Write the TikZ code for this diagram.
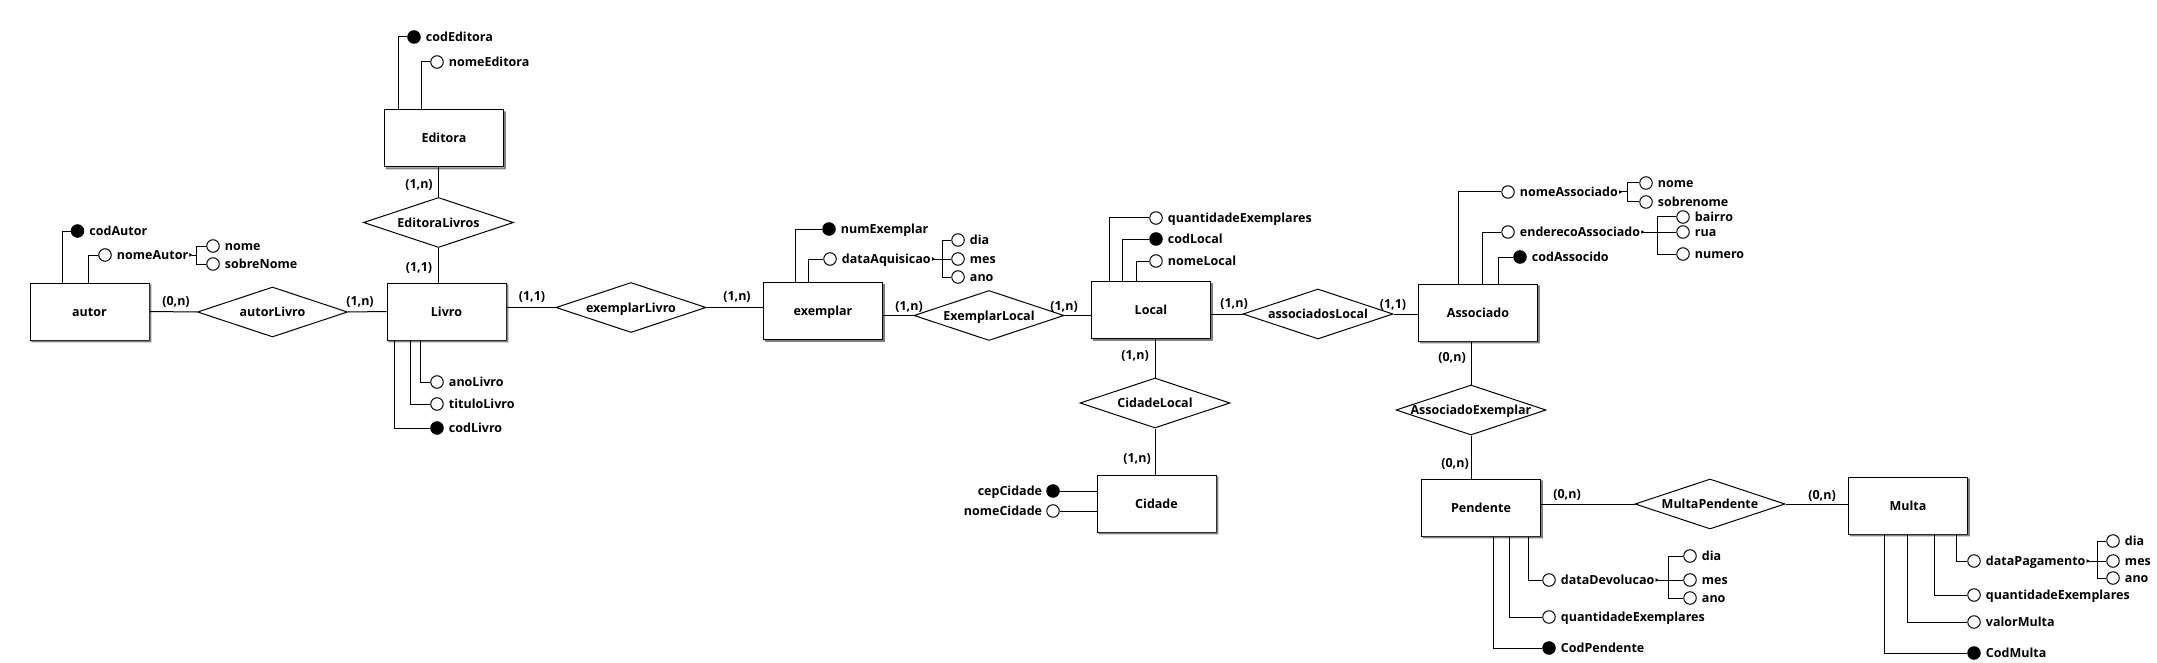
\documentclass[tikz,border=0pt]{standalone}
\usepackage{fontspec}
\setmainfont{Open Sans}
\usetikzlibrary{shapes.geometric,arrows.meta}
\newcommand\entshadow[1]{%
  \fill[black!50] ([yshift=-1.8pt]#1.north east) -- ([xshift=1.8pt,yshift=-1.8pt]#1.north east)
   -- ([xshift=1.8pt,yshift=-1.8pt]#1.south east) -- ([xshift=1.8pt,yshift=-1.8pt]#1.south west)
   -- ([xshift=1.8pt]#1.south west) -- (#1.south east) -- cycle;}
\begin{document}
\begin{tikzpicture}[x=1pt,y=-1pt,
  font=\fontsize{12.5}{14}\selectfont\bfseries,
  ent/.style={draw,line width=1pt,minimum width=119pt,minimum height=57pt,inner sep=0pt,fill=white,text height=9pt,text depth=0pt},
  rel/.style={diamond,draw,line width=1pt,minimum width=150pt,minimum height=50pt,inner sep=0pt},
  rtxt/.style={inner sep=0pt,text height=9pt,text depth=0pt},
  lk/.style={line width=1pt},
  attrc/.style={circle,draw,line width=1pt,minimum size=12.5pt,inner sep=0pt,fill=white},
  pkc/.style={attrc,fill=black},
  atl/.style={anchor=west,inner sep=0pt,xshift=5pt,text height=9pt,text depth=0pt},
  atr/.style={anchor=east,inner sep=0pt,xshift=-4pt,text height=9pt,text depth=0pt},
  card/.style={inner sep=0pt,text height=9pt,text depth=0pt},
  cmp/.style={line width=1pt,{Triangle[length=3pt,width=3.5pt,reversed]}-}
]
\useasboundingbox (0,0) rectangle (2157,663);

% ---------- entities ----------
\node[ent] (autor) at (89.5,311.5) {autor};
\node[ent] (Livro) at (446.5,311.5) {Livro};
\node[ent] (Editora) at (444,138.5) {Editora};
\node[ent] (exemplar) at (823,311) {exemplar};
\node[ent] (Local) at (1151,310) {Local};
\node[ent] (Associado) at (1478,312.5) {Associado};
\node[ent] (Cidade) at (1156.5,503.5) {Cidade};
\node[ent] (Pendente) at (1481,507.5) {Pendente};
\node[ent] (Multa) at (1908,505.5) {Multa};
\entshadow{autor}\entshadow{Livro}\entshadow{Editora}\entshadow{exemplar}
\entshadow{Local}\entshadow{Associado}\entshadow{Cidade}\entshadow{Pendente}\entshadow{Multa}

% ---------- relationships ----------
\node[rel] (autorLivro) at (272.5,312) {};
\node[rtxt] at (autorLivro) {autorLivro};
\node[rel] (EditoraLivros) at (438.5,222.5) {};
\node[rtxt] at (EditoraLivros) {EditoraLivros};
\node[rel] (exemplarLivro) at (631,307.5) {};
\node[rtxt] at (exemplarLivro) {exemplarLivro};
\node[rel] (ExemplarLocal) at (989,315.5) {};
\node[rtxt] at (ExemplarLocal) {ExemplarLocal};
\node[rel] (CidadeLocal) at (1155,403) {};
\node[rtxt] at (CidadeLocal) {CidadeLocal};
\node[rel] (associadosLocal) at (1318,314) {};
\node[rtxt] at (associadosLocal) {associadosLocal};
\node[rel] (AssociadoExemplar) at (1471,410) {};
\node[rtxt] at (AssociadoExemplar) {AssociadoExemplar};
\node[rel] (MultaPendente) at (1710,504) {};
\node[rtxt] at (MultaPendente) {MultaPendente};

% ---------- relationship links ----------
\draw[lk] (autor.east) -- (autorLivro.west);
\draw[lk] (autorLivro.east) -- (Livro.west);
\draw[lk] (EditoraLivros.north |- Editora.south) -- (EditoraLivros.north);
\draw[lk] (EditoraLivros.south) -- (EditoraLivros.south |- Livro.north);
\draw[lk] (exemplarLivro.west -| Livro.east) -- (exemplarLivro.west);
\draw[lk] (exemplarLivro.east) -- (exemplarLivro.east -| exemplar.west);
\draw[lk] (ExemplarLocal.west -| exemplar.east) -- (ExemplarLocal.west);
\draw[lk] (ExemplarLocal.east) -- (ExemplarLocal.east -| Local.west);
\draw[lk] (CidadeLocal.north |- Local.south) -- (CidadeLocal.north);
\draw[lk] (CidadeLocal.south) -- (CidadeLocal.south |- Cidade.north);
\draw[lk] (associadosLocal.west -| Local.east) -- (associadosLocal.west);
\draw[lk] (associadosLocal.east) -- (associadosLocal.east -| Associado.west);
\draw[lk] (AssociadoExemplar.north |- Associado.south) -- (AssociadoExemplar.north);
\draw[lk] (AssociadoExemplar.south) -- (AssociadoExemplar.south |- Pendente.north);
\draw[lk] (MultaPendente.west -| Pendente.east) -- (MultaPendente.west);
\draw[lk] (MultaPendente.east) -- (MultaPendente.east -| Multa.west);

% ---------- cardinalities ----------
\node[card] at (176,301) {(0,n)};
\node[card] at (360,301) {(1,n)};
\node[card] at (419,184) {(1,n)};
\node[card] at (419,267) {(1,1)};
\node[card] at (532,296) {(1,1)};
\node[card] at (737,296) {(1,n)};
\node[card] at (909,306) {(1,n)};
\node[card] at (1064,306) {(1,n)};
\node[card] at (1135,355) {(1,n)};
\node[card] at (1137,458) {(1,n)};
\node[card] at (1234,303) {(1,n)};
\node[card] at (1393,304) {(1,1)};
\node[card] at (1452,357) {(0,n)};
\node[card] at (1455,463) {(0,n)};
\node[card] at (1567,494) {(0,n)};
\node[card] at (1822,495) {(0,n)};

% ---------- autor attributes ----------
\node[pkc] (codAutor) at (77.5,231) {};
\node[atl] at (codAutor.east) {codAutor};
\draw[lk] ([xshift=-27pt]autor.north) |- (codAutor);
\node[attrc] (nomeAutor) at (105,255) {};
\node[atl] (nomeAutorT) at (nomeAutor.east) {nomeAutor};
\draw[lk] ([xshift=-1pt]autor.north) |- (nomeAutor);
\coordinate (nomeAutorB) at (196,255);
\draw[cmp] ([xshift=1pt]nomeAutorT.east) -- (nomeAutorB);
\node[attrc] (aNome) at (213,246) {};
\node[atl] at (aNome.east) {nome};
\node[attrc] (aSobre) at (213,264) {};
\node[atl] at (aSobre.east) {sobreNome};
\draw[lk] (nomeAutorB) |- (aNome);
\draw[lk] (nomeAutorB) |- (aSobre);

% ---------- Editora attributes ----------
\node[pkc] (codEditora) at (414,37) {};
\node[atl] at (codEditora.east) {codEditora};
\draw[lk] ([xshift=-46pt]Editora.north) |- (codEditora);
\node[attrc] (nomeEditora) at (437,62) {};
\node[atl] at (nomeEditora.east) {nomeEditora};
\draw[lk] ([xshift=-23pt]Editora.north) |- (nomeEditora);

% ---------- Livro attributes ----------
\node[attrc] (anoLivro) at (437,382) {};
\node[atl] at (anoLivro.east) {anoLivro};
\draw[lk] ([xshift=-26.5pt]Livro.south) |- (anoLivro);
\node[attrc] (tituloLivro) at (437,404) {};
\node[atl] at (tituloLivro.east) {tituloLivro};
\draw[lk] ([xshift=-36.5pt]Livro.south) |- (tituloLivro);
\node[pkc] (codLivro) at (437,428) {};
\node[atl] at (codLivro.east) {codLivro};
\draw[lk] ([xshift=-52.5pt]Livro.south) |- (codLivro);

% ---------- exemplar attributes ----------
\node[pkc] (numExemplar) at (829,229) {};
\node[atl] at (numExemplar.east) {numExemplar};
\draw[lk] ([xshift=-28pt]exemplar.north) |- (numExemplar);
\node[attrc] (dataAq) at (830,259) {};
\node[atl] (dataAqT) at (dataAq.east) {dataAquisicao};
\draw[lk] ([xshift=-15pt]exemplar.north) |- (dataAq);
\coordinate (dataAqB) at (942,259);
\draw[cmp] ([xshift=1pt]dataAqT.east) -- (dataAqB);
\node[attrc] (eDia) at (958,240) {};
\node[atl] at (eDia.east) {dia};
\node[attrc] (eMes) at (958,259) {};
\node[atl] at (eMes.east) {mes};
\node[attrc] (eAno) at (958,277) {};
\node[atl] at (eAno.east) {ano};
\draw[lk] (dataAqB) |- (eDia);
\draw[lk] (dataAqB) -- (eMes);
\draw[lk] (dataAqB) |- (eAno);

% ---------- Local attributes ----------
\node[attrc] (qtdLocal) at (1156,218) {};
\node[atl] at (qtdLocal.east) {quantidadeExemplares};
\draw[lk] ([xshift=-42pt]Local.north) |- (qtdLocal);
\node[pkc] (codLocal) at (1156,239) {};
\node[atl] at (codLocal.east) {codLocal};
\draw[lk] ([xshift=-29pt]Local.north) |- (codLocal);
\node[attrc] (nomeLocal) at (1156,261) {};
\node[atl] at (nomeLocal.east) {nomeLocal};
\draw[lk] ([xshift=-15pt]Local.north) |- (nomeLocal);

% ---------- Cidade attributes ----------
\node[pkc] (cepCidade) at (1053,491) {};
\node[atr] at (cepCidade.west) {cepCidade};
\draw[lk] (Cidade.west |- cepCidade) -- (cepCidade);
\node[attrc] (nomeCidade) at (1053,511) {};
\node[atr] at (nomeCidade.west) {nomeCidade};
\draw[lk] (Cidade.west |- nomeCidade) -- (nomeCidade);

% ---------- Associado attributes ----------
\node[attrc] (nomeAss) at (1508,192) {};
\node[atl] (nomeAssT) at (nomeAss.east) {nomeAssociado};
\draw[lk] ([xshift=-20pt]Associado.north) |- (nomeAss);
\coordinate (nomeAssB) at (1627,192);
\draw[cmp] ([xshift=1pt]nomeAssT.east) -- (nomeAssB);
\node[attrc] (sNome) at (1646,183) {};
\node[atl] at (sNome.east) {nome};
\node[attrc] (sSobre) at (1646,202) {};
\node[atl] at (sSobre.east) {sobrenome};
\draw[lk] (nomeAssB) |- (sNome);
\draw[lk] (nomeAssB) |- (sSobre);
\node[attrc] (endAss) at (1508,232) {};
\node[atl] (endAssT) at (endAss.east) {enderecoAssociado};
\draw[lk] ([xshift=4pt]Associado.north) |- (endAss);
\coordinate (endAssB) at (1657,232);
\draw[cmp] ([xshift=1pt]endAssT.east) -- (endAssB);
\node[attrc] (sBairro) at (1683,217) {};
\node[atl] at (sBairro.east) {bairro};
\node[attrc] (sRua) at (1683,232) {};
\node[atl] at (sRua.east) {rua};
\node[attrc] (sNumero) at (1683,254) {};
\node[atl] at (sNumero.east) {numero};
\draw[lk] (endAssB) |- (sBairro);
\draw[lk] (endAssB) -- (sRua);
\draw[lk] (endAssB) |- (sNumero);
\node[pkc] (codAss) at (1520,257) {};
\node[atl] at (codAss.east) {codAssocido};
\draw[lk] ([xshift=20pt]Associado.north) |- (codAss);

% ---------- Pendente attributes ----------
\node[attrc] (dataDev) at (1549,580) {};
\node[atl] (dataDevT) at (dataDev.east) {dataDevolucao};
\draw[lk] ([xshift=47pt]Pendente.south) |- (dataDev);
\coordinate (dataDevB) at (1668,580);
\draw[cmp] ([xshift=1pt]dataDevT.east) -- (dataDevB);
\node[attrc] (pDia) at (1690,556) {};
\node[atl] at (pDia.east) {dia};
\node[attrc] (pMes) at (1690,580) {};
\node[atl] at (pMes.east) {mes};
\node[attrc] (pAno) at (1690,598) {};
\node[atl] at (pAno.east) {ano};
\draw[lk] (dataDevB) |- (pDia);
\draw[lk] (dataDevB) -- (pMes);
\draw[lk] (dataDevB) |- (pAno);
\node[attrc] (qtdPend) at (1549,617) {};
\node[atl] at (qtdPend.east) {quantidadeExemplares};
\draw[lk] ([xshift=28pt]Pendente.south) |- (qtdPend);
\node[pkc] (codPend) at (1549,648) {};
\node[atl] at (codPend.east) {CodPendente};
\draw[lk] ([xshift=12pt]Pendente.south) |- (codPend);

% ---------- Multa attributes ----------
\node[attrc] (dataPag) at (1974,561) {};
\node[atl] (dataPagT) at (dataPag.east) {dataPagamento};
\draw[lk] ([xshift=48pt]Multa.south) |- (dataPag);
\coordinate (dataPagB) at (2097,561);
\draw[cmp] ([xshift=1pt]dataPagT.east) -- (dataPagB);
\node[attrc] (mDia) at (2113,541) {};
\node[atl] at (mDia.east) {dia};
\node[attrc] (mMes) at (2113,561) {};
\node[atl] at (mMes.east) {mes};
\node[attrc] (mAno) at (2113,578) {};
\node[atl] at (mAno.east) {ano};
\draw[lk] (dataPagB) |- (mDia);
\draw[lk] (dataPagB) -- (mMes);
\draw[lk] (dataPagB) |- (mAno);
\node[attrc] (qtdMulta) at (1974,595) {};
\node[atl] at (qtdMulta.east) {quantidadeExemplares};
\draw[lk] ([xshift=26pt]Multa.south) |- (qtdMulta);
\node[attrc] (valorMulta) at (1974,622) {};
\node[atl] at (valorMulta.east) {valorMulta};
\draw[lk] ([xshift=-1pt]Multa.south) |- (valorMulta);
\node[pkc] (codMulta) at (1974,653) {};
\node[atl] at (codMulta.east) {CodMulta};
\draw[lk] ([xshift=-24pt]Multa.south) |- (codMulta);
\end{tikzpicture}
\end{document}
